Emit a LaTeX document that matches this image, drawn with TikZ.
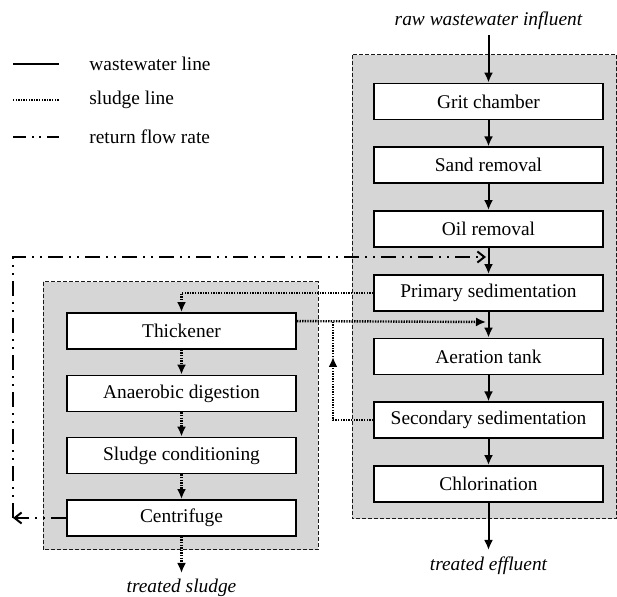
\documentclass[tikz,border=0pt]{standalone}
\usepackage{fontspec}
\setmainfont{Liberation Serif}
\usetikzlibrary{arrows.meta}
\definecolor{ZoneFill}{HTML}{D6D6D6}
\definecolor{ZoneEdge}{HTML}{1A1A1A}

\begin{document}
\begin{tikzpicture}[x=0.5pt,y=-0.5pt,
    font=\fontsize{9.7}{11.6}\selectfont,
    unit/.style={draw,fill=white,line width=0.9pt,minimum width=114.5pt,minimum height=18pt,inner sep=0pt},
    zone/.style={draw=ZoneEdge,fill=ZoneFill,line width=0.5pt,dash pattern=on 2pt off 1pt},
    water/.style={line width=1pt,-{Latex[length=5pt,width=4.5pt]}},
    sludge/.style={line width=1.2pt,dash pattern=on 0.7pt off 0.6pt},
    sludgeto/.style={sludge,-{Latex[length=5pt,width=4.5pt]}},
    recycle/.style={line width=1pt,dash pattern=on 7.5pt off 3pt on 1pt off 3pt on 1pt off 3pt},
    recycleto/.style={recycle,-{Straight Barb[length=3.5pt,width=5.5pt,line width=1pt]}}]
  \useasboundingbox (0,0) rectangle (617,597);

  % legend
  \draw[line width=1pt] (13,64) -- (59,64);
  \draw[sludge] (13,100) -- (59,100);
  \draw[line width=1pt,dash pattern=on 6.5pt off 3pt on 1pt off 2.5pt on 1pt off 3pt] (13,137) -- (59,137);
  \node[anchor=west,inner sep=0pt] (keywater) at (89,64) {wastewater line};
  \node[anchor=west,inner sep=0pt] (keysludge) at (89,100) {sludge line};
  \node[anchor=west,inner sep=0pt] (keyreturn) at (89,137) {return flow rate};

  % shaded zones
  \draw[zone] (352,55) rectangle (616.5,519);
  \draw[zone] (43,282) rectangle (318,550);

  % wastewater line
  \node[unit] (grit)  at (488.5,101.5) {Grit chamber};
  \node[unit] (sand)  at (488.5,165.3) {Sand removal};
  \node[unit] (oil)   at (488.5,229)   {Oil removal};
  \node[unit] (prim)  at (488.5,293)   {Primary sedimentation};
  \node[unit] (aer)   at (488.5,356.5) {Aeration tank};
  \node[unit] (sec)   at (488.5,420.3) {Secondary sedimentation};
  \node[unit] (chlor) at (488.5,484)   {Chlorination};

  % sludge line
  \node[unit] (thick) at (181.5,331)   {Thickener};
  \node[unit] (dig)   at (181.5,393.5) {Anaerobic digestion};
  \node[unit] (cond)  at (181.5,455.5) {Sludge conditioning};
  \node[unit] (cent)  at (181.5,518)   {Centrifuge};

  \node (rawin)  at (488.5,21)  {\itshape raw wastewater influent};
  \node (effout) at (488.5,566) {\itshape treated effluent};
  \node (sldout) at (181.5,588) {\itshape treated sludge};

  \coordinate (inlet)   at (488.5,35);
  \coordinate (outlet)  at (488.5,550);
  \coordinate (cakeout) at (181.5,573);
  \coordinate (retbend) at (13,518);
  \coordinate (retin)   at (486,257);
  \coordinate (thkin)   at (486,322);
  \coordinate (riser)   at (333,357);
  \coordinate (joint)   at (333,322);

  \draw[water] (inlet) -- (grit.north);
  \foreach \a/\b in {grit/sand,sand/oil,oil/prim,prim/aer,aer/sec,sec/chlor}
    \draw[water] (\a.south) -- (\b.north);
  \draw[water] (chlor.south) -- (outlet);

  \draw[sludgeto] (prim.west) -| (thick.north);
  \foreach \a/\b in {thick/dig,dig/cond,cond/cent}
    \draw[sludgeto] (\a.south) -- (\b.north);
  \draw[sludgeto] (cent.south) -- (cakeout);
  \draw[sludgeto] ([yshift=-4.5pt]thick.north east) -- (thkin);
  \draw[sludgeto] (sec.west) -| (riser);
  \draw[sludge] (riser) -- (joint);

  % return flow
  \draw[recycleto] (cent.west) -- (retbend);
  \draw[recycleto] (retbend) |- (retin);
\end{tikzpicture}
\end{document}
